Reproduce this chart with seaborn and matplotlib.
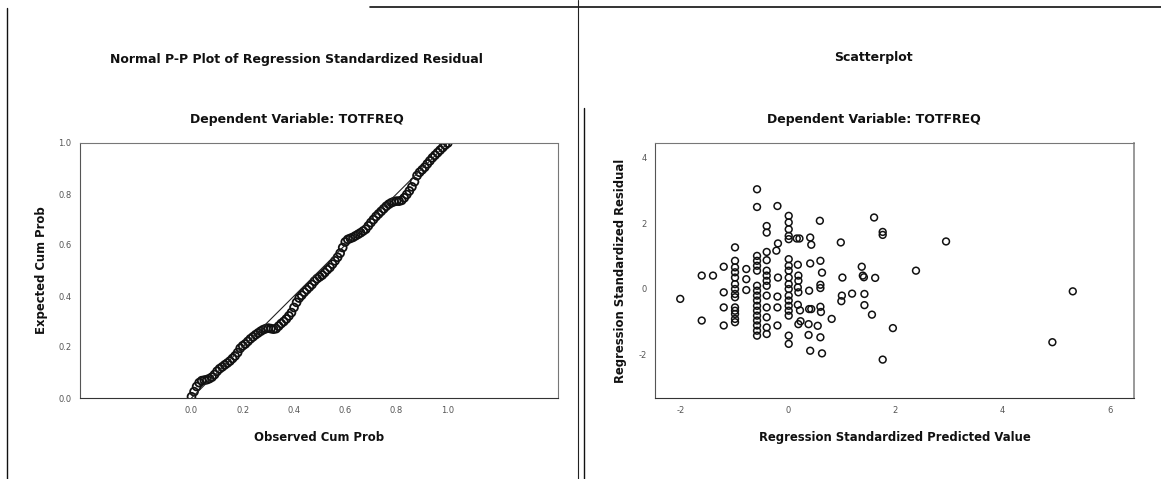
import matplotlib
matplotlib.use("Agg")
import matplotlib.pyplot as plt
from matplotlib.lines import Line2D
import seaborn as sns
import pandas as pd

# ---------------- data ----------------
pp_observed = [0.00, 0.01, 0.02, 0.03, 0.04, 0.05, 0.06, 0.07, 0.08, 0.09,
               0.10, 0.11, 0.12, 0.13, 0.14, 0.15, 0.16, 0.17, 0.18, 0.19,
               0.20, 0.21, 0.22, 0.23, 0.24, 0.25, 0.26, 0.27, 0.28, 0.29,
               0.30, 0.31, 0.32, 0.33, 0.34, 0.35, 0.36, 0.37, 0.38, 0.39,
               0.40, 0.41, 0.42, 0.43, 0.44, 0.45, 0.46, 0.47, 0.48, 0.49,
               0.50, 0.51, 0.52, 0.53, 0.54, 0.55, 0.56, 0.57, 0.58, 0.59,
               0.60, 0.61, 0.62, 0.63, 0.64, 0.65, 0.66, 0.67, 0.68, 0.69,
               0.70, 0.71, 0.72, 0.73, 0.74, 0.75, 0.76, 0.77, 0.78, 0.79,
               0.80, 0.81, 0.82, 0.83, 0.84, 0.85, 0.86, 0.87, 0.88, 0.89,
               0.90, 0.91, 0.92, 0.93, 0.94, 0.95, 0.96, 0.97, 0.98, 0.99, 1.00]
pp_expected = [0.005, 0.025, 0.045, 0.060, 0.068, 0.070, 0.072, 0.076, 0.082, 0.092,
               0.105, 0.115, 0.122, 0.130, 0.137, 0.145, 0.155, 0.165, 0.178, 0.195,
               0.205, 0.212, 0.222, 0.232, 0.240, 0.248, 0.255, 0.262, 0.268, 0.272,
               0.274, 0.272, 0.270, 0.272, 0.282, 0.292, 0.300, 0.310, 0.322, 0.335,
               0.355, 0.375, 0.392, 0.403, 0.415, 0.425, 0.435, 0.445, 0.458, 0.468,
               0.475, 0.482, 0.492, 0.503, 0.512, 0.525, 0.538, 0.552, 0.568, 0.590,
               0.612, 0.622, 0.626, 0.630, 0.636, 0.642, 0.648, 0.655, 0.662, 0.675,
               0.688, 0.700, 0.712, 0.722, 0.732, 0.742, 0.752, 0.760, 0.766, 0.770,
               0.772, 0.772, 0.775, 0.785, 0.798, 0.812, 0.828, 0.848, 0.872, 0.885,
               0.895, 0.905, 0.918, 0.930, 0.942, 0.952, 0.962, 0.972, 0.982, 0.992, 1.000]
diag_x = [0.0, 1.0]
diag_y = [0.0, 1.0]

pred_value = [-2.00, -1.60, -1.60, -1.39, -1.19, -1.19, -1.19, -1.19, -0.98,
              -0.98, -0.98, -0.98, -0.98, -0.98, -0.98, -0.98, -0.98, -0.98, -0.98, -0.98, -0.98, -0.98,
              -0.77, -0.77, -0.77, -0.57, -0.57,
              -0.57, -0.57, -0.57, -0.57, -0.57, -0.57, -0.57, -0.57, -0.57, -0.57, -0.57, -0.57, -0.57, -0.57, -0.57,
              -0.39, -0.39, -0.39, -0.39,
              -0.39, -0.39, -0.39, -0.39, -0.39, -0.39, -0.39, -0.39, -0.39,
              -0.19, -0.18, -0.21, -0.18, -0.19, -0.19, -0.19,
              0.02, 0.02, 0.02, 0.02, 0.02, 0.02, 0.02, 0.02, 0.02, 0.02, 0.02, 0.02, 0.02, 0.02, 0.02, 0.02, 0.02, 0.02,
              0.17, 0.22, 0.19, 0.20, 0.20, 0.19, 0.20, 0.19, 0.23, 0.20, 0.24,
              0.40, 0.44, 0.42, 0.44, 0.42, 0.40, 0.39, 0.39, 0.42, 0.56,
              0.60, 0.61, 0.64, 0.61, 0.61, 0.61, 0.62, 0.61, 0.64, 0.82,
              0.99, 1.02, 1.01, 1.00, 1.20, 1.38, 1.40, 1.42, 1.43, 1.43, 1.57,
              1.61, 1.63, 1.77, 1.77, 1.77, 1.96, 2.39, 2.95, 4.93, 5.31]
std_residual = [-0.31, -0.97, 0.40, 0.40, 0.67, -0.11, -0.57, -1.12, 1.26,
                0.85, 0.65, 0.50, 0.34, 0.14, -0.01, -0.16, -0.26, -0.57, -0.67, -0.77, -0.92, -1.02,
                0.60, 0.29, -0.04, 3.03, 2.49,
                1.00, 0.85, 0.70, 0.55, 0.09, -0.06, -0.21, -0.36, -0.52, -0.67, -0.82, -0.97, -1.12, -1.28, -1.43,
                1.91, 1.71, 1.12, 0.87,
                0.55, 0.40, 0.24, 0.09, -0.21, -0.57, -0.87, -1.18, -1.38,
                2.52, 1.38, 1.16, 0.34, -0.24, -0.57, -1.12,
                2.22, 2.02, 1.81, 1.61, 1.51, 0.90, 0.70, 0.55, 0.34, 0.14, -0.01, -0.21, -0.36, -0.52, -0.67, -0.82, -1.43, -1.68,
                1.53, 1.53, 0.73, 0.40, 0.24, 0.04, -0.11, -0.49, -0.66, -1.08, -0.99,
                -0.62, -0.62, 1.56, 1.34, 0.77, -0.06, -1.08, -1.41, -1.89, -1.13,
                2.07, 0.85, 0.49, 0.12, 0.02, -0.55, -0.71, -1.48, -1.97, -0.92,
                1.41, 0.34, -0.21, -0.38, -0.15, 0.67, 0.40, 0.35, -0.16, -0.50, -0.79,
                2.17, 0.33, 1.73, 1.64, -2.16, -1.20, 0.55, 1.44, -1.63, -0.08]

pp_ticks = [0.0, 0.2, 0.4, 0.6, 0.8, 1.0]
pp_ticklabels = ["0.0", "0.2", "0.4", "0.6", "0.8", "1.0"]
sc_xticks = [-2, 0, 2, 4, 6]
sc_yticks = [-2, 0, 2, 4]

pp_df = pd.DataFrame({"observed": pp_observed, "expected": pp_expected})
diag_df = pd.DataFrame({"x": diag_x, "y": diag_y})
sc_df = pd.DataFrame({"pred": pred_value, "resid": std_residual})

# ---------------- figure ----------------
sns.set_style("white")
plt.rcParams["font.family"] = ["DejaVu Sans"]
plt.rcParams["axes.unicode_minus"] = False

W, H = 1161, 479
fig = plt.figure(figsize=(W / 100, H / 100), dpi=100)
fig.patch.set_facecolor("white")


def fx(px):
    return px / W


def fy(py):
    return 1 - py / H


ax1 = fig.add_axes([fx(80), fy(398), fx(558) - fx(80), fy(143) - fy(398)])
ax2 = fig.add_axes([fx(655), fy(398), fx(1134) - fx(655), fy(143) - fy(398)])

# P-P plot
sns.lineplot(data=diag_df, x="x", y="y", ax=ax1, color="#222222", lw=0.8)
sns.scatterplot(data=pp_df, x="observed", y="expected", ax=ax1, s=32,
                facecolor="none", edgecolor="#111111", linewidth=1.3, marker="o")
ax1.set_xlim(-0.435, 1.43)
ax1.set_ylim(0.0, 1.0)
ax1.set_xticks(pp_ticks)
ax1.set_xticklabels(pp_ticklabels)
ax1.set_yticks(pp_ticks)
ax1.set_yticklabels(pp_ticklabels)

# Scatter
sns.scatterplot(data=sc_df, x="pred", y="resid", ax=ax2, s=24,
                facecolor="none", edgecolor="#111111", linewidth=1.1, marker="o")
ax2.set_xlim(-2.47, 6.45)
ax2.set_ylim(-3.33, 4.44)
ax2.set_xticks(sc_xticks)
ax2.set_yticks(sc_yticks)

lab_font = dict(fontsize=8.4, fontweight="bold", color="#111111")
ax1.set_xlabel("Observed Cum Prob", **lab_font)
ax1.set_ylabel("Expected Cum Prob", **lab_font)
ax2.set_xlabel("Regression Standardized Predicted Value", **lab_font)
ax2.set_ylabel("Regression Standardized Residual", **lab_font)
ax1.xaxis.set_label_coords(0.5, -0.128)
ax1.yaxis.set_label_coords((48 - 80) / 478, 0.5)
ax2.xaxis.set_label_coords(0.5, -0.128)
ax2.yaxis.set_label_coords((627 - 655) / 479, 0.5)

for ax in (ax1, ax2):
    ax.tick_params(axis="both", which="major", direction="out", length=3,
                   width=0.6, color="#555555", labelsize=6, labelcolor="#555555", pad=3)
    for side, sp in ax.spines.items():
        sp.set_visible(True)
        sp.set_color("#777777")
        sp.set_linewidth(0.8)
        if side in ("top", "right"):
            sp.set_linestyle((0, (1, 1)))
    ax.spines["bottom"].set_color("#333333")
    ax.spines["left"].set_color("#555555")
    ax.grid(False)
ax2.spines["right"].set_linestyle("-")
ax2.spines["right"].set_color("#888888")
ax2.spines["right"].set_linewidth(1.2)

# Titles
ttl = dict(fontsize=9.0, fontweight="bold", color="#111111", ha="center", va="center")
fig.text(fx(296), fy(59), "Normal P-P Plot of Regression Standardized Residual", **ttl)
fig.text(fx(297), fy(119), "Dependent Variable: TOTFREQ", **ttl)
fig.text(fx(873), fy(58), "Scatterplot", **ttl)
fig.text(fx(874), fy(119), "Dependent Variable: TOTFREQ", **ttl)

# Page border decorations
fig.add_artist(Line2D([fx(7), fx(7)], [0, fy(8)], transform=fig.transFigure, color="#111111", lw=1.0))
fig.add_artist(Line2D([fx(370), 1], [fy(7), fy(7)], transform=fig.transFigure, color="#111111", lw=1.2))
fig.add_artist(Line2D([fx(578), fx(578)], [0, 1], transform=fig.transFigure, color="#222222", lw=0.8))
fig.add_artist(Line2D([fx(584), fx(584)], [0, fy(108)], transform=fig.transFigure, color="#111111", lw=1.0))

fig.savefig("out.png", dpi=100, facecolor="white")
